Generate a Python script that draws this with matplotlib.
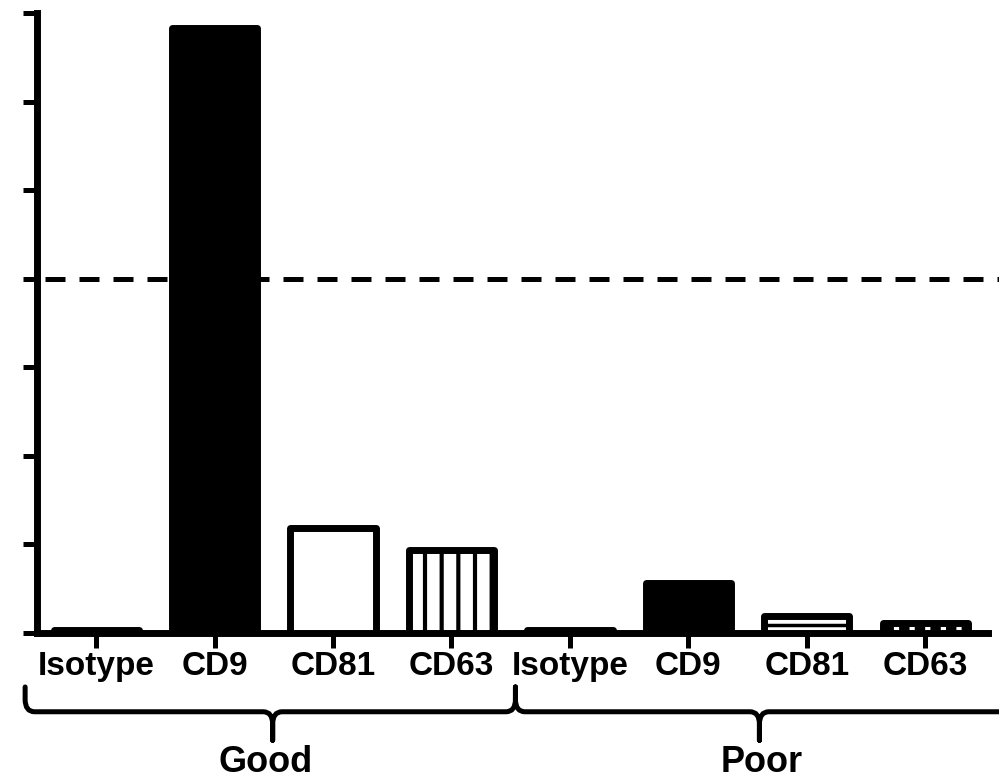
import matplotlib
matplotlib.use("Agg")
import matplotlib.pyplot as plt
from matplotlib.path import Path
from matplotlib.patches import PathPatch
from matplotlib.transforms import blended_transform_factory

# data
categories = ["Isotype", "CD9", "CD81", "CD63", "Isotype", "CD9", "CD81", "CD63"]
groups = ["Good", "Poor"]
values = [0.3, 68.3, 11.9, 9.4, 0.3, 5.7, 1.9, 1.1]
threshold = 40
y_ticks = [0, 10, 20, 30, 40, 50, 60, 70]

plt.rcParams['font.family'] = ['Liberation Sans', 'DejaVu Sans']
plt.rcParams['hatch.linewidth'] = 3.0

fig = plt.figure(figsize=(9.99, 7.79), dpi=100)
ax = fig.add_axes([0.037, 0.1874, 0.952, 0.7959])

x = list(range(len(values)))
width = 0.72
faces = ["white", "black", "white", "white", "white", "black", "white", "white"]
hatches = [None, None, None, "|", None, None, None, None]

ax.hlines(threshold, -0.43, 7.7, colors="black", linewidth=3.6,
          linestyles=(0, (4, 2.8)), zorder=1, clip_on=False)

bars = ax.bar(x, values, width=width, color=faces, edgecolor="black",
              linewidth=5, zorder=3)
for b, h in zip(bars, hatches):
    b.set_joinstyle("round")
    if h:
        b.set_hatch(h)

# poor CD81 / CD63 have a line through the middle of the bar
ax.hlines(values[6] / 2, x[6] - width / 2, x[6] + width / 2, colors="black",
          linewidth=2.5, zorder=4)
ax.hlines(values[7] / 2, x[7] - width / 2, x[7] + width / 2, colors="black",
          linewidth=2.5, linestyles=(0, (3, 1.5)), zorder=4)

ax.set_xlim(-0.5, 7.53)
ax.set_ylim(0, 70)
ax.set_yticks(y_ticks)
ax.set_yticklabels([])
ax.set_xticks(x)
ax.set_xticklabels(categories, fontsize=24, fontweight="bold")

for s in ["top", "right"]:
    ax.spines[s].set_visible(False)
for s in ["left", "bottom"]:
    ax.spines[s].set_linewidth(5)
ax.tick_params(axis="y", direction="out", length=10, width=3.6)
ax.tick_params(axis="x", direction="out", length=11, width=3.6, pad=2)

# group braces under the labels
tr = blended_transform_factory(ax.transData, ax.transAxes)
y_top, y_line, y_tip = -0.087, -0.127, -0.173
rx, ry = 0.08, 0.02
x_left, x_mid, x_right = -0.6, 3.54, 7.8
tips = [1.49, 5.6]

verts = [(x_left, y_top), (x_left, y_line + ry), (x_left, y_line), (x_left + rx, y_line)]
codes = [Path.MOVETO, Path.LINETO, Path.CURVE3, Path.CURVE3]

def add_down(xc):
    verts.extend([(xc - rx, y_line), (xc, y_line), (xc, y_line - ry), (xc, y_tip),
                  (xc, y_line - ry), (xc, y_line), (xc + rx, y_line)])
    codes.extend([Path.LINETO, Path.CURVE3, Path.CURVE3, Path.LINETO,
                  Path.LINETO, Path.CURVE3, Path.CURVE3])

def add_up(xc):
    verts.extend([(xc - rx, y_line), (xc, y_line), (xc, y_line + ry), (xc, y_top),
                  (xc, y_line + ry), (xc, y_line), (xc + rx, y_line)])
    codes.extend([Path.LINETO, Path.CURVE3, Path.CURVE3, Path.LINETO,
                  Path.LINETO, Path.CURVE3, Path.CURVE3])

add_down(tips[0])
add_up(x_mid)
add_down(tips[1])
verts.append((x_right, y_line))
codes.append(Path.LINETO)

brace = PathPatch(Path(verts, codes), transform=tr, fill=False, edgecolor="black",
                  linewidth=3.6, capstyle="round", joinstyle="round", clip_on=False)
ax.add_patch(brace)

for g, xc in zip(groups, [1.43, 5.62]):
    ax.text(xc, -0.224, g, transform=tr, ha="center", va="baseline",
            fontsize=26, fontweight="bold")

fig.savefig("out.png", dpi=100)
